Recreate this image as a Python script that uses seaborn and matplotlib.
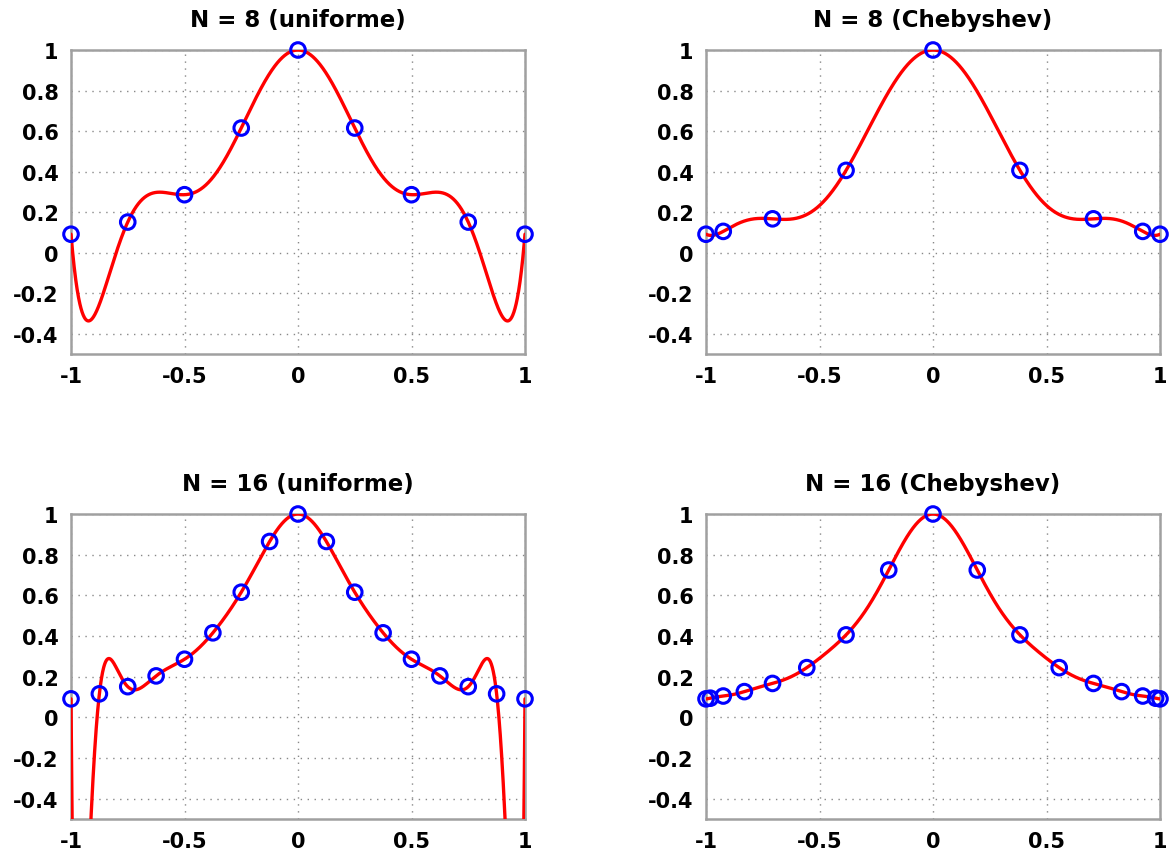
import numpy as np
import pandas as pd
import matplotlib
matplotlib.use("Agg")
import matplotlib.pyplot as plt
import seaborn as sns
from numpy.polynomial import Polynomial

sns.set_theme(style="white")
plt.rcParams['font.family'] = ['DejaVu Sans']
plt.rcParams['axes.unicode_minus'] = False

titles = ["N = 8 (uniforme)", "N = 8 (Chebyshev)", "N = 16 (uniforme)", "N = 16 (Chebyshev)"]

x_u8 = [-1.0, -0.75, -0.5, -0.25, 0.0, 0.25, 0.5, 0.75, 1.0]
y_u8 = [0.091, 0.151, 0.286, 0.615, 1.0, 0.615, 0.286, 0.151, 0.091]

x_c8 = [-1.0, -0.924, -0.707, -0.383, 0.0, 0.383, 0.707, 0.924, 1.0]
y_c8 = [0.091, 0.105, 0.167, 0.406, 1.0, 0.406, 0.167, 0.105, 0.091]

x_u16 = [-1.0, -0.875, -0.75, -0.625, -0.5, -0.375, -0.25, -0.125, 0.0,
         0.125, 0.25, 0.375, 0.5, 0.625, 0.75, 0.875, 1.0]
y_u16 = [0.0909, 0.1155, 0.1509, 0.2038, 0.2857, 0.4156, 0.6154, 0.8649, 1.0,
         0.8649, 0.6154, 0.4156, 0.2857, 0.2038, 0.1509, 0.1155, 0.0909]

x_c16 = [-1.0, -0.981, -0.924, -0.831, -0.707, -0.556, -0.383, -0.195, 0.0,
         0.195, 0.383, 0.556, 0.707, 0.831, 0.924, 0.981, 1.0]
y_c16 = [0.0909, 0.0941, 0.1048, 0.1265, 0.1667, 0.2444, 0.4055, 0.7246, 1.0,
         0.7246, 0.4055, 0.2444, 0.1667, 0.1265, 0.1048, 0.0941, 0.0909]

xticks = [-1, -0.5, 0, 0.5, 1]
xticklabels = ["-1", "-0.5", "0", "0.5", "1"]
yticks = [-0.4, -0.2, 0, 0.2, 0.4, 0.6, 0.8, 1]
yticklabels = ["-0.4", "-0.2", "0", "0.2", "0.4", "0.6", "0.8", "1"]

nodes = [(x_u8, y_u8), (x_c8, y_c8), (x_u16, y_u16), (x_c16, y_c16)]

fig = plt.figure(figsize=(11.71, 8.54), dpi=100)
W, H = 1171, 854
rects = [
    (71 / W, 1 - 355 / H, 454 / W, 304 / H),
    (706 / W, 1 - 355 / H, 454 / W, 304 / H),
    (71 / W, 1 - 820 / H, 454 / W, 305 / H),
    (706 / W, 1 - 820 / H, 454 / W, 305 / H),
]

gray = "#a0a0a0"
for rect, title, (xn, yn) in zip(rects, titles, nodes):
    ax = fig.add_axes(rect)
    p = Polynomial.fit(np.array(xn), np.array(yn), deg=len(xn) - 1)
    xs = np.linspace(-1, 1, 2001)
    curve = pd.DataFrame({"x": xs, "y": p(xs)})
    sns.lineplot(data=curve, x="x", y="y", ax=ax, color="#ff0000", lw=2.4, sort=False, zorder=3)
    pts = pd.DataFrame({"x": xn, "y": yn})
    sns.scatterplot(data=pts, x="x", y="y", ax=ax, marker="o", s=110,
                    facecolor="none", edgecolor="#0000ff", linewidth=2.2, zorder=4, clip_on=False)
    ax.set_xlim(-1, 1)
    ax.set_ylim(-0.5, 1)
    ax.set_xticks(xticks)
    ax.set_xticklabels(xticklabels, fontsize=15, fontweight="bold")
    ax.set_yticks(yticks)
    ax.set_yticklabels(yticklabels, fontsize=15, fontweight="bold")
    ax.set_xlabel("")
    ax.set_ylabel("")
    ax.grid(True, linestyle=(0, (1, 4)), color="#888888", lw=1.0)
    ax.tick_params(direction="in", length=5, color=gray, width=1.5, pad=9, labelcolor="black")
    for s in ax.spines.values():
        s.set_color(gray)
        s.set_linewidth(1.8)
        s.set_visible(True)
    ax.set_title(title, fontsize=16.5, fontweight="bold", pad=17, color="black")
    ax.set_facecolor("white")

fig.savefig("out.png", dpi=100, facecolor="white")
